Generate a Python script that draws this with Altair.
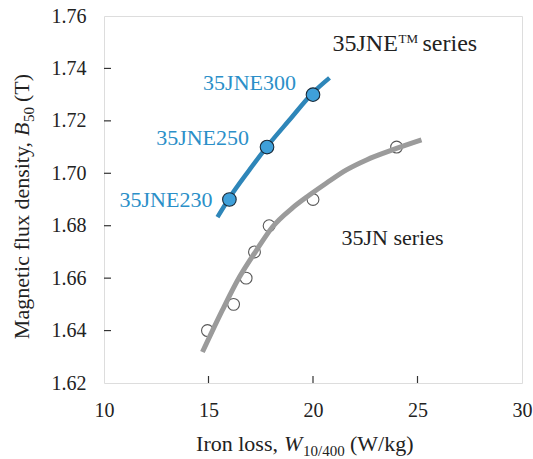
import altair as alt
import pandas as pd

# ---- data ----
jne_x = [16.0, 17.8, 20.0]
jne_y = [1.69, 1.71, 1.73]
jne_names = ["35JNE230", "35JNE250", "35JNE300"]

jn_x = [14.95, 16.2, 16.8, 17.2, 17.9, 20.0, 24.0]
jn_y = [1.64, 1.65, 1.66, 1.67, 1.68, 1.69, 1.71]

# trend curves
jne_curve_x = [15.43, 16.0, 16.96, 17.78, 18.87, 19.98, 20.79]
jne_curve_y = [1.6833, 1.6906, 1.7013, 1.7100, 1.7203, 1.7306, 1.7364]

jn_curve_x = [14.71, 15.67, 16.48, 17.30, 18.06, 19.02, 19.83, 20.65, 21.60, 22.56, 23.80, 25.19]
jn_curve_y = [1.6318, 1.6479, 1.6604, 1.6707, 1.6795, 1.6868, 1.6917, 1.6963, 1.7013, 1.7051, 1.7089, 1.7127]

x_ticks = [10, 15, 20, 25, 30]
y_ticks = [1.62, 1.64, 1.66, 1.68, 1.70, 1.72, 1.74, 1.76]

FONT = "Liberation Serif"
BLUE_LINE = "#2e86b9"
BLUE_FILL = "#3fa0da"
BLUE_TEXT = "#2b8fc8"
GREY = "#9b9b9b"
W, H = 418, 367

xs = alt.Scale(domain=[10, 30], nice=False, zero=False)
ys = alt.Scale(domain=[1.62, 1.76], nice=False, zero=False)

xaxis = alt.Axis(values=x_ticks, format="d", title=None, grid=False, ticks=False, domain=False,
                 labelFont=FONT, labelFontSize=20, labelColor="#222", labelPadding=17,
                 labelFlush=False)
yaxis = alt.Axis(values=y_ticks, format=".2f", title=None, grid=False, ticks=False, domain=False,
                 labelFont=FONT, labelFontSize=20, labelColor="#222", labelPadding=18,
                 labelFlush=False)

jne_df = pd.DataFrame({"x": jne_x, "y": jne_y, "name": jne_names})
jn_df = pd.DataFrame({"x": jn_x, "y": jn_y})
jne_c = pd.DataFrame({"x": jne_curve_x, "y": jne_curve_y})
jn_c = pd.DataFrame({"x": jn_curve_x, "y": jn_curve_y})

base_axes = alt.Chart(jn_df).mark_point(opacity=0).encode(
    x=alt.X("x:Q", scale=xs, axis=xaxis),
    y=alt.Y("y:Q", scale=ys, axis=yaxis),
)

jn_pts = alt.Chart(jn_df).mark_point(shape="circle", filled=False, size=140, stroke="#111",
                                     strokeWidth=1.1).encode(
    x=alt.X("x:Q", scale=xs), y=alt.Y("y:Q", scale=ys))

jn_line = alt.Chart(jn_c).mark_line(color=GREY, strokeWidth=5, interpolate="monotone").encode(
    x=alt.X("x:Q", scale=xs), y=alt.Y("y:Q", scale=ys))

jne_line = alt.Chart(jne_c).mark_line(color=BLUE_LINE, strokeWidth=4.5, interpolate="monotone").encode(
    x=alt.X("x:Q", scale=xs), y=alt.Y("y:Q", scale=ys))

jne_pts = alt.Chart(jne_df).mark_point(shape="circle", filled=True, size=185, fill=BLUE_FILL,
                                       fillOpacity=1, stroke="#1a2a38", strokeWidth=1.1).encode(
    x=alt.X("x:Q", scale=xs), y=alt.Y("y:Q", scale=ys))

label_offsets = {"35JNE230": (-17, 7), "35JNE250": (-18, -2), "35JNE300": (-17, -5)}
labels = []
for nm in jne_names:
    dx, dy = label_offsets[nm]
    labels.append(
        alt.Chart(jne_df).transform_filter(alt.datum.name == nm).mark_text(
            font=FONT, fontSize=22, color=BLUE_TEXT, align="right", baseline="alphabetic",
            dx=dx, dy=dy).encode(x=alt.X("x:Q", scale=xs), y=alt.Y("y:Q", scale=ys), text="name:N"))

# inward tick marks
xt = pd.DataFrame({"v": x_ticks[1:-1]})
yt = pd.DataFrame({"v": y_ticks[1:-1]})
xtick = alt.Chart(xt).mark_rule(color="#333", strokeWidth=1.2).encode(
    x=alt.X("v:Q", scale=xs), y=alt.value(H), y2=alt.value(H - 7))
ytick = alt.Chart(yt).mark_rule(color="#333", strokeWidth=1.2).encode(
    y=alt.Y("v:Q", scale=ys), x=alt.value(0), x2=alt.value(7))

def txt(s, x, y, size=22, dx=0, dy=0, align="left", angle=0, style="normal", color="#222"):
    kw = dict(text=s, font=FONT, fontSize=size, dx=dx, dy=dy, align=align,
              baseline="alphabetic", fontStyle=style, color=color)
    if angle:
        kw["angle"] = angle
    return alt.Chart(jn_df.head(1)).mark_text(**kw).encode(x=alt.value(x), y=alt.value(y))

annots = [
    txt("35JNE", 228.5, 35, size=24),
    txt("TM", 228.5, 35, size=13, dx=66, dy=-8),
    txt("series", 228.5, 35, size=24, dx=90),
    txt("35JN series", 237.5, 229, size=22),
    # x title
    txt("Iron loss,", 180, 435, align="right", dx=-6),
    txt("W", 180, 435, style="italic"),
    txt("10/400", 180, 435, size=15, dx=19, dy=5),
    txt("(W/kg)", 180, 435, dx=66),
    # y title
    txt("Magnetic flux density,", -75, 120, align="right", angle=270, dx=-6),
    txt("B", -75, 120, style="italic", angle=270),
    txt("50", -75, 120, size=15, dx=14, dy=5, angle=270),
    txt("(T)", -75, 120, dx=34, angle=270),
]

chart = alt.layer(base_axes, jn_pts, jn_line, jne_line, jne_pts, xtick, ytick, *labels, *annots).properties(
    width=W, height=H,
    autosize=alt.AutoSizeParams(type="none"),
    padding={"left": 104, "top": 16, "right": 11, "bottom": 76},
).configure_view(stroke="#555", strokeWidth=1.5).configure(background="white")

chart.save("out.html", embed_options={"renderer": "svg", "actions": False})
